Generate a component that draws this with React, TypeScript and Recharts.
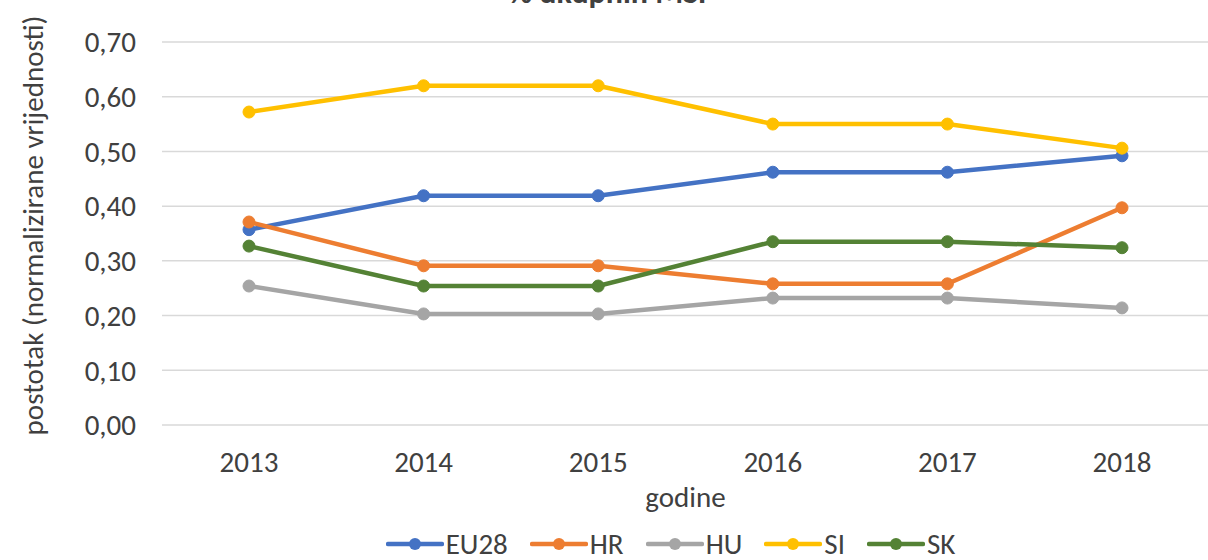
import { LineChart, Line, XAxis, YAxis, CartesianGrid, Legend } from 'recharts'

const years = ['2013', '2014', '2015', '2016', '2017', '2018']
const eu28 = [0.357, 0.419, 0.419, 0.462, 0.462, 0.492]
const hr = [0.371, 0.291, 0.291, 0.258, 0.258, 0.397]
const hu = [0.254, 0.203, 0.203, 0.232, 0.232, 0.214]
const si = [0.572, 0.62, 0.62, 0.55, 0.55, 0.506]
const sk = [0.327, 0.254, 0.254, 0.335, 0.335, 0.324]
const yTicks = [0, 0.1, 0.2, 0.3, 0.4, 0.5, 0.6, 0.7]

const series = [
  { key: 'EU28', color: '#4472C4' },
  { key: 'HR', color: '#ED7D31' },
  { key: 'HU', color: '#A5A5A5' },
  { key: 'SI', color: '#FFC000' },
  { key: 'SK', color: '#548235' },
]

const data = years.map((y, i) => ({
  year: y, EU28: eu28[i], HR: hr[i], HU: hu[i], SI: si[i], SK: sk[i],
}))

const font = 'Carlito, "Open Sans", "Liberation Sans", sans-serif'
const txt = '#404040'
const fs = 29

function LegendRow() {
  return (
    <div style={{
      display: 'flex', justifyContent: 'center', alignItems: 'center', gap: 22,
      height: 30, marginTop: 4, paddingLeft: 132, lineHeight: 1,
      fontFamily: font, fontSize: fs, color: txt,
    }}>
      {series.map(s => (
        <div key={s.key} style={{ display: 'flex', alignItems: 'center' }}>
          <svg width={58} height={14} style={{ marginRight: 2 }}>
            <line x1={2} y1={7} x2={56} y2={7} stroke={s.color} strokeWidth={4.5} strokeLinecap="round" />
            <circle cx={29} cy={7} r={6} fill={s.color} />
          </svg>
          <span>{s.key}</span>
        </div>
      ))}
    </div>
  )
}

export default function App() {
  return (
    <div style={{ position: 'absolute', left: 0, top: 0, width: 1208, height: 560, overflow: 'hidden', background: '#fff' }}>
      <svg width={1208} height={20} style={{ position: 'absolute', left: 0, top: 0 }}>
        <text x={612} y={3} textAnchor="middle" fontFamily={font} fontWeight={700} fontSize={32} fill={txt}>
          % ukupnih MSP
        </text>
      </svg>
      <LineChart width={1208} height={560} data={data} margin={{ top: 42, right: -1, bottom: 0, left: 0 }}>
        <CartesianGrid vertical={false} stroke="#d9d9d9" strokeWidth={1.5} />
        <XAxis
          dataKey="year"
          height={100}
          padding={{ left: 87, right: 87 }}
          axisLine={false}
          tickLine={false}
          tickSize={0}
          tickMargin={26}
          tick={{ fontSize: fs, fill: txt, fontFamily: font }}
          label={{ value: 'godine', position: 'insideBottom', offset: 18, fontSize: fs, fill: txt, fontFamily: font }}
        />
        <YAxis
          width={162}
          domain={[0, 0.7]}
          ticks={yTicks}
          axisLine={false}
          tickLine={false}
          tickSize={0}
          tickMargin={26}
          tickFormatter={(v: number) => v.toFixed(2).replace('.', ',')}
          tick={{ fontSize: fs, fill: txt, fontFamily: font }}
          label={{ value: 'postotak (normalizirane vrijednosti)', angle: -90, position: 'insideLeft', offset: 33, dy: -8, fontSize: fs, fill: txt, fontFamily: font, style: { textAnchor: 'middle' } }}
        />
        <Legend verticalAlign="bottom" height={35} content={() => <LegendRow />} />
        {series.map(s => (
          <Line
            key={s.key}
            type="linear"
            dataKey={s.key}
            stroke={s.color}
            strokeWidth={4.5}
            dot={{ r: 6, fill: s.color, stroke: s.color, strokeWidth: 1 }}
            activeDot={false}
            isAnimationActive={false}
          />
        ))}
      </LineChart>
    </div>
  )
}
